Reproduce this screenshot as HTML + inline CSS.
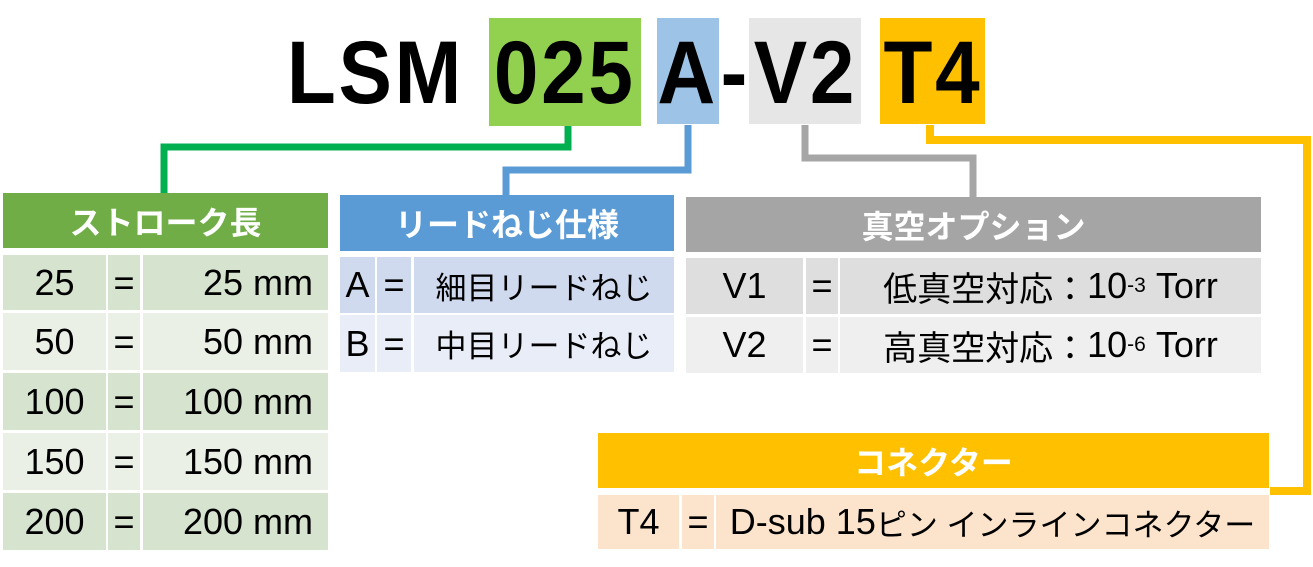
<!DOCTYPE html>
<html><head><meta charset="utf-8"><style>
html,body{margin:0;padding:0;background:#fff;}
body{width:1313px;height:567px;position:relative;overflow:hidden;font-family:"Liberation Sans","Noto Sans CJK JP",sans-serif;}
.b{position:absolute;}
.c{position:absolute;display:flex;align-items:center;justify-content:center;font-size:36px;color:#000;white-space:nowrap;}
.j{font-size:31px;}
.k{font-size:34px;}
.h{position:absolute;display:flex;align-items:center;justify-content:center;font-size:32px;font-weight:bold;color:#fff;white-space:nowrap;}
.t{position:absolute;top:18px;height:108px;display:flex;align-items:center;justify-content:center;font-size:89px;font-weight:bold;color:#000;white-space:nowrap;}
.t span{display:inline-block;transform:scaleX(0.9);letter-spacing:3px;}
.r{justify-content:flex-end;padding-right:15px;box-sizing:border-box;}
sup{font-size:21px;vertical-align:13px;}
</style></head><body>
<svg class="b" style="left:0;top:0" width="1313" height="567">
<polyline points="568,125 568,147 164,147 164,193" fill="none" stroke="#00B050" stroke-width="7"/>
<polyline points="688,125 688,170 506,170 506,195" fill="none" stroke="#5B9BD5" stroke-width="7"/>
<polyline points="805,125 805,158 973,158 973,197" fill="none" stroke="#A6A6A6" stroke-width="7"/>
<polyline points="930,125 930,140 1307,140 1307,491 1270,491" fill="none" stroke="#FFC000" stroke-width="8"/>
</svg>
<div class="b" style="left:489px;top:18px;width:152px;height:108px;background:#92D050"></div>
<div class="b" style="left:657px;top:18px;width:62px;height:106px;background:#9DC3E6"></div>
<div class="b" style="left:749px;top:18px;width:112px;height:106px;background:#E7E6E6"></div>
<div class="b" style="left:880px;top:18px;width:105px;height:106px;background:#FFC000"></div>
<div class="t" style="left:280px;width:190px"><span>LSM</span></div>
<div class="t" style="left:489px;width:152px"><span>025</span></div>
<div class="t" style="left:653px;width:70px"><span>A</span></div>
<div class="t" style="left:719px;width:32px"><span>-</span></div>
<div class="t" style="left:749px;width:112px"><span>V2</span></div>
<div class="t" style="left:880px;width:105px"><span>T4</span></div>

<div class="h" style="left:3px;top:193px;width:325px;height:55px;background:#70AD47">ストローク長</div>
<div class="c" style="left:3px;top:255px;width:103px;height:55px;background:#D5E3CF">25</div>
<div class="c" style="left:108px;top:255px;width:32px;height:55px;background:#D5E3CF">=</div>
<div class="c r" style="left:143px;top:255px;width:185px;height:55px;background:#D5E3CF">25 mm</div>
<div class="c" style="left:3px;top:313px;width:103px;height:57px;background:#EAF0E6">50</div>
<div class="c" style="left:108px;top:313px;width:32px;height:57px;background:#EAF0E6">=</div>
<div class="c r" style="left:143px;top:313px;width:185px;height:57px;background:#EAF0E6">50 mm</div>
<div class="c" style="left:3px;top:373px;width:103px;height:57px;background:#D5E3CF">100</div>
<div class="c" style="left:108px;top:373px;width:32px;height:57px;background:#D5E3CF">=</div>
<div class="c r" style="left:143px;top:373px;width:185px;height:57px;background:#D5E3CF">100 mm</div>
<div class="c" style="left:3px;top:433px;width:103px;height:57px;background:#EAF0E6">150</div>
<div class="c" style="left:108px;top:433px;width:32px;height:57px;background:#EAF0E6">=</div>
<div class="c r" style="left:143px;top:433px;width:185px;height:57px;background:#EAF0E6">150 mm</div>
<div class="c" style="left:3px;top:493px;width:103px;height:57px;background:#D5E3CF">200</div>
<div class="c" style="left:108px;top:493px;width:32px;height:57px;background:#D5E3CF">=</div>
<div class="c r" style="left:143px;top:493px;width:185px;height:57px;background:#D5E3CF">200 mm</div>

<div class="h" style="left:340px;top:195px;width:334px;height:56px;background:#5B9BD5">リードねじ仕様</div>
<div class="c" style="left:340px;top:257px;width:35px;height:56px;background:#CFDAEE">A</div>
<div class="c" style="left:377px;top:257px;width:34px;height:56px;background:#CFDAEE">=</div>
<div class="c" style="left:414px;top:257px;width:260px;height:56px;background:#CFDAEE"><span class="j">細目リードねじ</span></div>
<div class="c" style="left:340px;top:315px;width:35px;height:57px;background:#E8EDF7">B</div>
<div class="c" style="left:377px;top:315px;width:34px;height:57px;background:#E8EDF7">=</div>
<div class="c" style="left:414px;top:315px;width:260px;height:57px;background:#E8EDF7"><span class="j">中目リードねじ</span></div>

<div class="h" style="left:686px;top:197px;width:575px;height:55px;background:#A5A5A5">真空オプション</div>
<div class="c" style="left:686px;top:258px;width:117px;height:56px;background:#DEDEDE">V1</div>
<div class="c" style="left:806px;top:258px;width:32px;height:56px;background:#DEDEDE">=</div>
<div class="c" style="left:840px;top:258px;width:421px;height:56px;background:#DEDEDE"><span class="k">低真空対応：</span>10<sup>-3</sup>&nbsp;Torr</div>
<div class="c" style="left:686px;top:317px;width:117px;height:56px;background:#EFEFEF">V2</div>
<div class="c" style="left:806px;top:317px;width:32px;height:56px;background:#EFEFEF">=</div>
<div class="c" style="left:840px;top:317px;width:421px;height:56px;background:#EFEFEF"><span class="k">高真空対応：</span>10<sup>-6</sup>&nbsp;Torr</div>

<div class="h" style="left:598px;top:433px;width:671px;height:55px;background:#FFC000">コネクター</div>
<div class="c" style="left:598px;top:495px;width:81px;height:54px;background:#FCE4CC">T4</div>
<div class="c" style="left:682px;top:495px;width:32px;height:54px;background:#FCE4CC">=</div>
<div class="c" style="left:716px;top:495px;width:553px;height:54px;background:#FCE4CC">D-sub 15<span class="j">ピン インラインコネクター</span></div>
</body></html>
